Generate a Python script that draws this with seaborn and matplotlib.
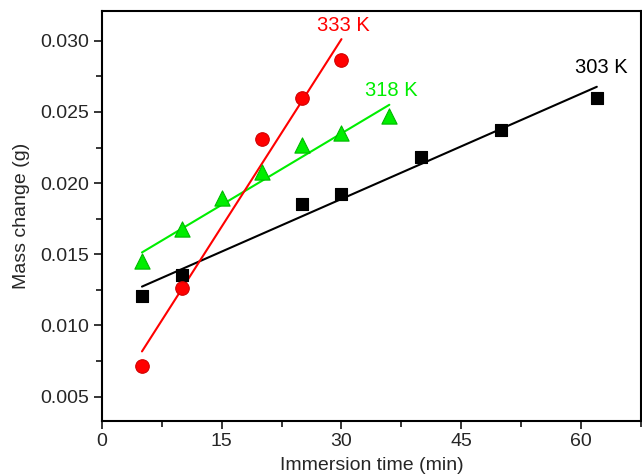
import matplotlib.pyplot as plt
import matplotlib.ticker as mticker
import numpy as np
import pandas as pd
import seaborn as sns

# Data
time_303 = [5, 10, 25, 30, 40, 50, 62]
mass_303 = [0.01209, 0.01357, 0.01855, 0.01926, 0.02185, 0.02375, 0.02600]

time_318 = [5, 10, 15, 20, 25, 30, 36]
mass_318 = [0.01455, 0.01680, 0.01897, 0.02080, 0.02270, 0.02350, 0.02470]

time_333 = [5, 10, 20, 25, 30]
mass_333 = [0.00718, 0.01265, 0.02310, 0.02600, 0.02865]

# linear fit lines as drawn in the figure (slope, intercept)
temps = ['303 K', '318 K', '333 K']
fit_slope = [0.0002463, 0.0003346, 0.0008776]
fit_intercept = [0.01150, 0.01346, 0.00379]

colors = {'303 K': 'black', '318 K': '#00ee00', '333 K': '#ff0000'}
edges = {'303 K': 'black', '318 K': '#00b800', '333 K': '#d00000'}
markers = {'303 K': 's', '318 K': '^', '333 K': 'o'}
sizes = {'303 K': 80, '318 K': 120, '333 K': 95}

df = pd.concat([
    pd.DataFrame({'time': time_303, 'mass': mass_303, 'temp': '303 K'}),
    pd.DataFrame({'time': time_318, 'mass': mass_318, 'temp': '318 K'}),
    pd.DataFrame({'time': time_333, 'mass': mass_333, 'temp': '333 K'}),
])

sns.set_style('ticks')
plt.rcParams['font.family'] = ['Liberation Sans', 'DejaVu Sans']

fig = plt.figure(figsize=(6.42, 4.75), dpi=100)
ax = fig.add_axes([0.159, 0.114, 0.839, 0.863])

for t, k, b in zip(temps, fit_slope, fit_intercept):
    sub = df[df['temp'] == t]
    xs = np.array([sub['time'].min(), sub['time'].max()])
    fit_df = pd.DataFrame({'time': xs, 'mass': k * xs + b})
    sns.lineplot(data=fit_df, x='time', y='mass', color=colors[t], lw=1.5, ax=ax, zorder=2)
    sns.scatterplot(data=sub, x='time', y='mass', marker=markers[t], s=sizes[t],
                    color=colors[t], edgecolor=edges[t], linewidth=0.8, ax=ax, zorder=3)

ax.text(30.3, 0.0311, '333 K', color='#ff0000', fontsize=14.5, ha='center', va='center')
ax.text(36.2, 0.0265, '318 K', color='#00ee00', fontsize=14.5, ha='center', va='center')
ax.text(62.5, 0.0281, '303 K', color='black', fontsize=14.5, ha='center', va='center')

ax.set_xlim(0, 67.5)
ax.set_ylim(0.0033, 0.0321)
ax.xaxis.set_major_locator(mticker.MultipleLocator(15))
ax.xaxis.set_minor_locator(mticker.MultipleLocator(7.5))
ax.yaxis.set_major_locator(mticker.MultipleLocator(0.005))
ax.yaxis.set_minor_locator(mticker.MultipleLocator(0.0025))
ax.yaxis.set_major_formatter(mticker.FormatStrFormatter('%.3f'))

ax.set_xlabel('Immersion time (min)', fontsize=14, labelpad=5)
ax.set_ylabel('Mass change (g)', fontsize=14, labelpad=8)
ax.tick_params(which='major', length=6, width=1.3, labelsize=14, direction='out', pad=3)
ax.tick_params(which='minor', length=4, width=1.3, direction='out')
for s in ax.spines.values():
    s.set_linewidth(1.5)
    s.set_color('black')
ax.spines['top'].set_visible(True)
ax.spines['right'].set_visible(True)
ax.tick_params(top=False, right=False, which='both')

fig.savefig('out.png', dpi=100)
